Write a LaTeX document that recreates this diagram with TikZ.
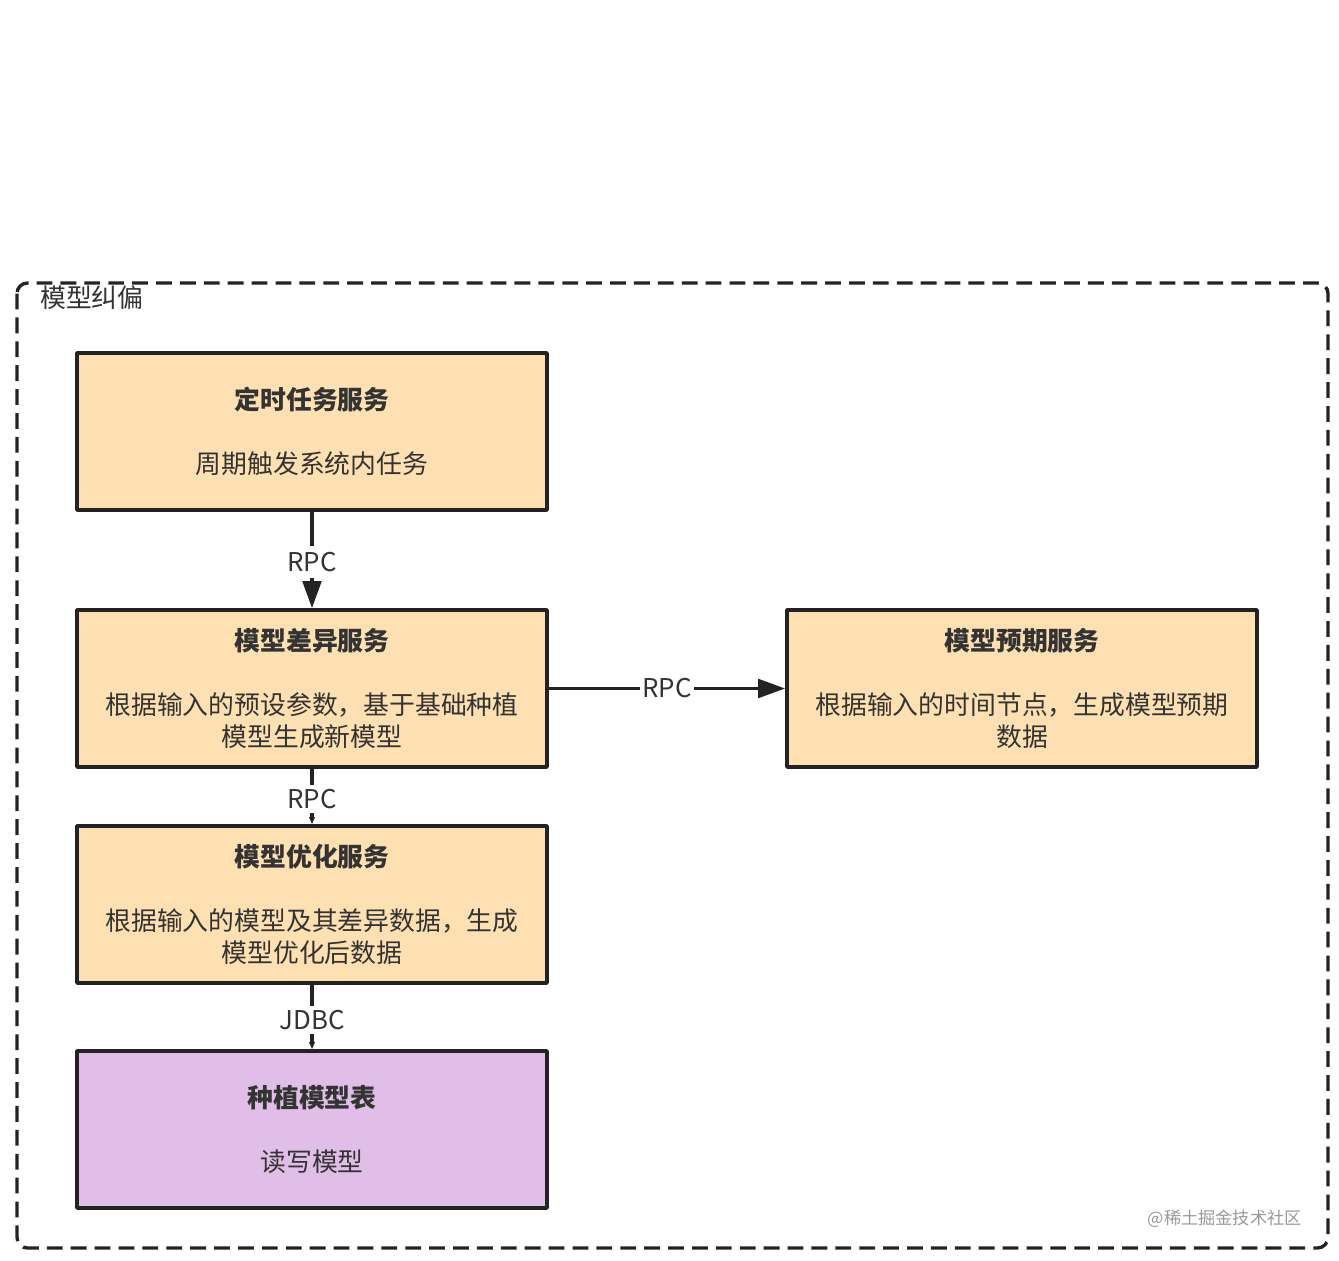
\documentclass[tikz,border=0pt]{standalone}
\usepackage{fontspec}
\setmainfont{Noto Sans CJK SC}
\usetikzlibrary{arrows.meta}
\definecolor{svcfill}{HTML}{FFE0B2}
\definecolor{dbfill}{HTML}{E1BEE7}
\definecolor{linecol}{HTML}{232323}
\definecolor{ink}{HTML}{333333}
\begin{document}
\begin{tikzpicture}[x=0.02cm,y=-0.02cm,line join=round,
    txt/.style={text=ink,font=\fontsize{14.7}{18.2}\selectfont},
    svcbox/.style={txt,draw=linecol,line width=2.1pt,fill=svcfill,minimum width=9.4cm,minimum height=3.14cm,inner sep=0pt,align=center},
    dbbox/.style={svcbox,fill=dbfill},
    link/.style={draw=linecol,line width=2pt,-{Triangle[length=0.54cm,width=0.37cm]}},
    stub/.style={draw=linecol,line width=2pt,-{Triangle[length=0.14cm,width=0.11cm]}},
    lbl/.style={txt,fill=white,inner xsep=1.5pt,inner ysep=3.5pt}]
  \useasboundingbox (0,0) rectangle (1339,1261);
  % group frame
  \draw[linecol,line width=1.9pt,dash pattern=on 9pt off 4.6pt,rounded corners=6pt]
    (17,283) rectangle (1328,1248);
  \node[txt,anchor=west] (grp) at (34,298) {模型纠偏};
  % services
  \node[svcbox] (timer) at (312,431.5) {\textbf{定时任务服务}\\~\\周期触发系统内任务};
  \node[svcbox] (diff) at (312,688.5) {\textbf{模型差异服务}\\~\\根据输入的预设参数，基于基础种植\\模型生成新模型};
  \node[svcbox] (expect) at (1022,688.5) {\textbf{模型预期服务}\\~\\根据输入的时间节点，生成模型预期\\数据};
  \node[svcbox] (optim) at (312,904.5) {\textbf{模型优化服务}\\~\\根据输入的模型及其差异数据，生成\\模型优化后数据};
  \node[dbbox] (plant) at (312,1129.5) {\textbf{种植模型表}\\~\\读写模型};
  % connectors
  \draw[link] (timer) -- node[lbl,pos=0.52]{RPC} (diff);
  \draw[link] (diff) -- node[lbl,pos=0.5]{RPC} (expect);
  \draw[stub] (diff) -- node[lbl,pos=0.55,inner ysep=2.5pt]{RPC} (optim);
  \draw[stub] (optim) -- node[lbl,pos=0.55,inner ysep=2.5pt]{JDBC} (plant);
  \node[text=black!40,font=\fontsize{9.8}{12}\selectfont,anchor=east] (mark) at (1308,1219) {@稀土掘金技术社区};
\end{tikzpicture}
\end{document}
